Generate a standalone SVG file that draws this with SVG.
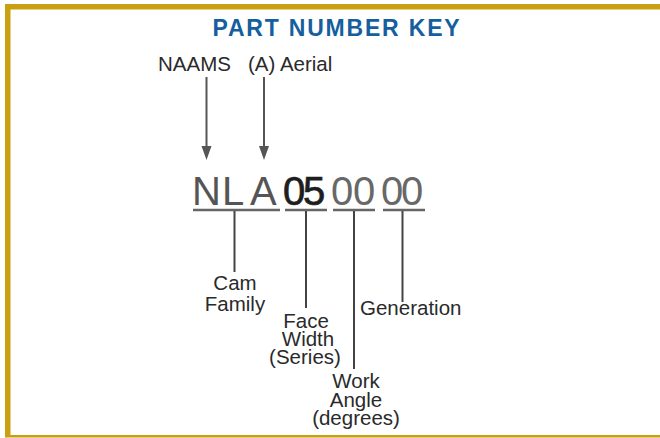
<svg xmlns="http://www.w3.org/2000/svg" width="660" height="438" viewBox="0 0 660 438">
<style>
.lbl{font-family:"Liberation Sans",Arial,sans-serif;font-size:20.5px;fill:#2a2a2a}
.big{font-family:"Liberation Sans",Arial,sans-serif;font-size:40px}
.lead{stroke:#444;stroke-width:2;fill:none}
.ul{stroke:#666;stroke-width:2.5;fill:none}
.arr{stroke:#555;stroke-width:2;fill:none}
.head{fill:#555}
</style>
<rect x="0" y="0" width="660" height="438" fill="#fff"/>
<g id="frame" fill="#C8A010">
<rect x="5" y="4" width="655" height="5.5"/>
<rect x="5" y="4" width="5.5" height="433"/>
<rect x="5" y="435" width="655" height="2.5"/>
</g>
<g id="title">
<text x="212.5" y="36" font-family="'Liberation Sans',Arial,sans-serif" font-size="23" font-weight="bold" letter-spacing="1.8" fill="#155F9E">PART NUMBER KEY</text>
</g>
<g id="naams"><text class="lbl" x="158" y="71">NAAMS</text></g>
<g id="aerial"><text class="lbl" x="248" y="71">(A) Aerial</text></g>
<g id="code">
<text class="big" fill="#555"><tspan x="192" y="205">N</tspan><tspan x="222" y="205">L</tspan><tspan x="250" y="205">A</tspan></text>
<text class="big" fill="#1e1e1e" stroke="#1e1e1e" stroke-width="0.7"><tspan x="283" y="205">0</tspan><tspan x="303" y="205">5</tspan></text>
<text class="big" fill="#686868"><tspan x="331" y="205">0</tspan><tspan x="353" y="205">0</tspan><tspan x="381" y="205">0</tspan><tspan x="401" y="205">0</tspan></text>
<line class="ul" x1="193" y1="210" x2="280" y2="210"/>
<line class="ul" x1="285" y1="210" x2="327" y2="210"/>
<line class="ul" x1="333" y1="210" x2="375" y2="210"/>
<line class="ul" x1="383" y1="210" x2="425" y2="210"/>
</g>
<g id="cam-family"><text class="lbl" text-anchor="middle"><tspan x="235" y="290">Cam</tspan><tspan x="235" y="311">Family</tspan></text></g>
<g id="face-width"><text class="lbl" text-anchor="middle"><tspan x="306" y="328">Face</tspan><tspan x="308" y="346">Width</tspan><tspan x="305" y="364">(Series)</tspan></text></g>
<g id="work-angle"><text class="lbl" text-anchor="middle"><tspan x="356" y="388">Work</tspan><tspan x="356" y="407">Angle</tspan><tspan x="356" y="425">(degrees)</tspan></text></g>
<g id="generation"><text class="lbl" x="360" y="315">Generation</text></g>
<g id="connectors">
<line class="arr" x1="206.5" y1="77" x2="206.5" y2="148"/>
<polygon class="head" points="201.5,146 211.5,146 206.5,160"/>
<line class="arr" x1="264" y1="77" x2="264" y2="148"/>
<polygon class="head" points="259,146 269,146 264,160"/>
<line class="lead" x1="234.5" y1="211" x2="234.5" y2="272"/>
<line class="lead" x1="306" y1="211" x2="306" y2="308"/>
<line class="lead" x1="354" y1="211" x2="354" y2="369"/>
<line class="lead" x1="402.5" y1="211" x2="402.5" y2="302"/>
</g>
</svg>
